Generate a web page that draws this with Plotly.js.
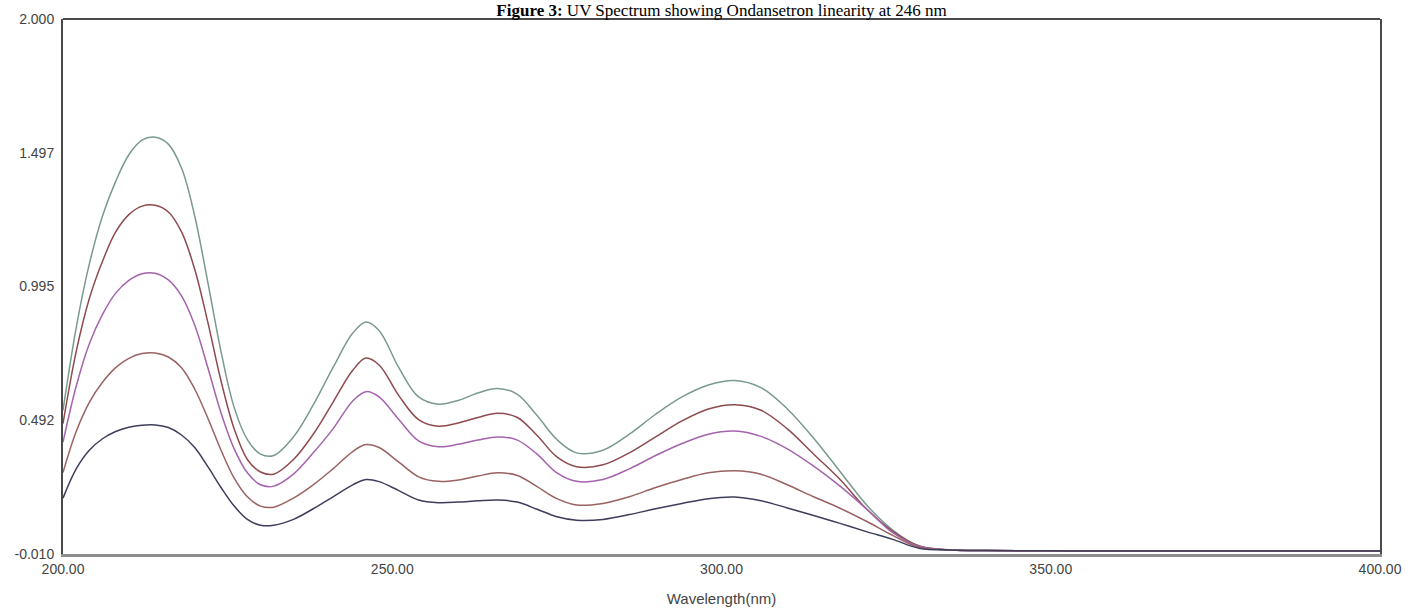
<!DOCTYPE html>
<html>
<head>
<meta charset="utf-8">
<script src="https://cdn.plot.ly/plotly-3.0.1.min.js"></script>
<style>html,body{margin:0;padding:0;background:#fff;}#chart{width:1405px;height:613px;}</style>
</head>
<body>
<div id="chart"></div>
<script>
// Wavelength grid (nm)
const wavelength = [200,202,204,206,208,210,212,214,216,218,220,222,224,226,228,230,232,235,238,241,244,246,248,251,254,257,260,263,266,269,272,275,278,282,286,290,294,298,302,306,310,314,318,322,326,330,335,340,350,360,370,380,390,400];

// Absorbance series, highest concentration first
const absTop =    [0.53,0.84,1.08,1.26,1.39,1.49,1.545,1.556,1.53,1.44,1.26,1.01,0.75,0.54,0.42,0.365,0.36,0.43,0.55,0.69,0.82,0.862,0.83,0.69,0.58,0.553,0.567,0.595,0.612,0.59,0.51,0.42,0.37,0.38,0.44,0.515,0.58,0.625,0.642,0.615,0.535,0.425,0.30,0.175,0.08,0.02,0.005,0.003,0.002,0.001,0.001,0.001,0.001,0.001];
const absSecond = [0.48,0.75,0.95,1.09,1.20,1.265,1.297,1.30,1.275,1.20,1.06,0.86,0.64,0.46,0.345,0.298,0.29,0.345,0.44,0.56,0.68,0.726,0.70,0.585,0.495,0.47,0.482,0.503,0.519,0.503,0.435,0.355,0.318,0.325,0.37,0.43,0.49,0.535,0.551,0.53,0.46,0.365,0.27,0.16,0.075,0.02,0.005,0.003,0.002,0.001,0.001,0.001,0.001,0.001];
const absThird =  [0.41,0.62,0.78,0.89,0.97,1.018,1.043,1.045,1.02,0.96,0.85,0.69,0.52,0.385,0.295,0.25,0.245,0.29,0.37,0.46,0.565,0.60,0.58,0.495,0.415,0.393,0.402,0.418,0.43,0.418,0.365,0.295,0.263,0.27,0.31,0.36,0.405,0.44,0.452,0.432,0.385,0.32,0.245,0.16,0.07,0.018,0.005,0.003,0.002,0.001,0.001,0.001,0.001,0.001];
const absFourth = [0.296,0.45,0.56,0.635,0.69,0.725,0.743,0.745,0.73,0.69,0.61,0.50,0.38,0.275,0.205,0.17,0.166,0.20,0.25,0.31,0.375,0.401,0.39,0.335,0.28,0.263,0.268,0.283,0.295,0.285,0.243,0.198,0.174,0.18,0.205,0.24,0.27,0.295,0.303,0.29,0.25,0.205,0.162,0.113,0.06,0.015,0.005,0.003,0.002,0.001,0.001,0.001,0.001,0.001];
const absFifth =  [0.20,0.31,0.38,0.423,0.45,0.466,0.474,0.475,0.465,0.437,0.39,0.318,0.24,0.17,0.12,0.098,0.098,0.12,0.16,0.205,0.25,0.27,0.262,0.228,0.193,0.183,0.185,0.19,0.193,0.185,0.158,0.13,0.117,0.12,0.138,0.16,0.18,0.198,0.204,0.19,0.163,0.135,0.105,0.074,0.045,0.012,0.005,0.003,0.002,0.001,0.001,0.001,0.001,0.001];

const yTickVals = [2.000, 1.497, 0.995, 0.492, -0.010];
const yTickText = ["2.000", "1.497", "0.995", "0.492", "-0.010"];
const xTickVals = [200, 250, 300, 350, 400];
const xTickText = ["200.00", "250.00", "300.00", "350.00", "400.00"];

const series = [absTop, absSecond, absThird, absFourth, absFifth];
const colors = ["#7a9a8e", "#8e4a4e", "#a463ac", "#9a6262", "#3e3e5c"];

const traces = series.map((ys, i) => ({
  x: wavelength, y: ys, type: 'scatter', mode: 'lines',
  line: {color: colors[i], width: 1.5, shape: 'spline', smoothing: 1},
  hoverinfo: 'skip', showlegend: false
}));

const tickFont = {family: 'Liberation Sans, Arial, sans-serif', size: 14, color: '#444'};

const layout = {
  width: 1405, height: 613,
  margin: {l: 63, r: 25, t: 19, b: 59},
  paper_bgcolor: '#fff', plot_bgcolor: '#fff',
  title: {
    text: '<b>Figure 3:</b> UV Spectrum showing Ondansetron linearity at 246 nm',
    font: {family: 'Liberation Serif, Times New Roman, serif', size: 17, color: '#000'},
    x: 0.5, xanchor: 'center', xref: 'paper',
    y: 0.9835, yanchor: 'middle', yref: 'container', pad: {t: 0, b: 0}
  },
  xaxis: {
    range: [200, 400], tickvals: xTickVals, ticktext: xTickText,
    showgrid: false, zeroline: false, ticks: '', ticklabelstandoff: 0,
    showline: true, linecolor: '#8e8e8e', linewidth: 3,
    tickfont: tickFont,
    title: {text: 'Wavelength(nm)', font: {family: 'Liberation Sans, Arial, sans-serif', size: 15, color: '#444'}, standoff: 18}
  },
  yaxis: {
    range: [-0.010, 2.000], tickvals: yTickVals, ticktext: yTickText,
    showgrid: false, zeroline: false, ticks: '', ticklabelstandoff: 4,
    showline: true, linecolor: '#4a4a4a', linewidth: 2, mirror: true,
    tickfont: tickFont
  },
  shapes: [
    {type: 'line', xref: 'paper', yref: 'paper', x0: 0, x1: 1, y0: 1, y1: 1, line: {color: '#4a4a4a', width: 2}}
  ]
};

Plotly.newPlot('chart', traces, layout, {displayModeBar: false, staticPlot: true});
</script>
</body>
</html>
